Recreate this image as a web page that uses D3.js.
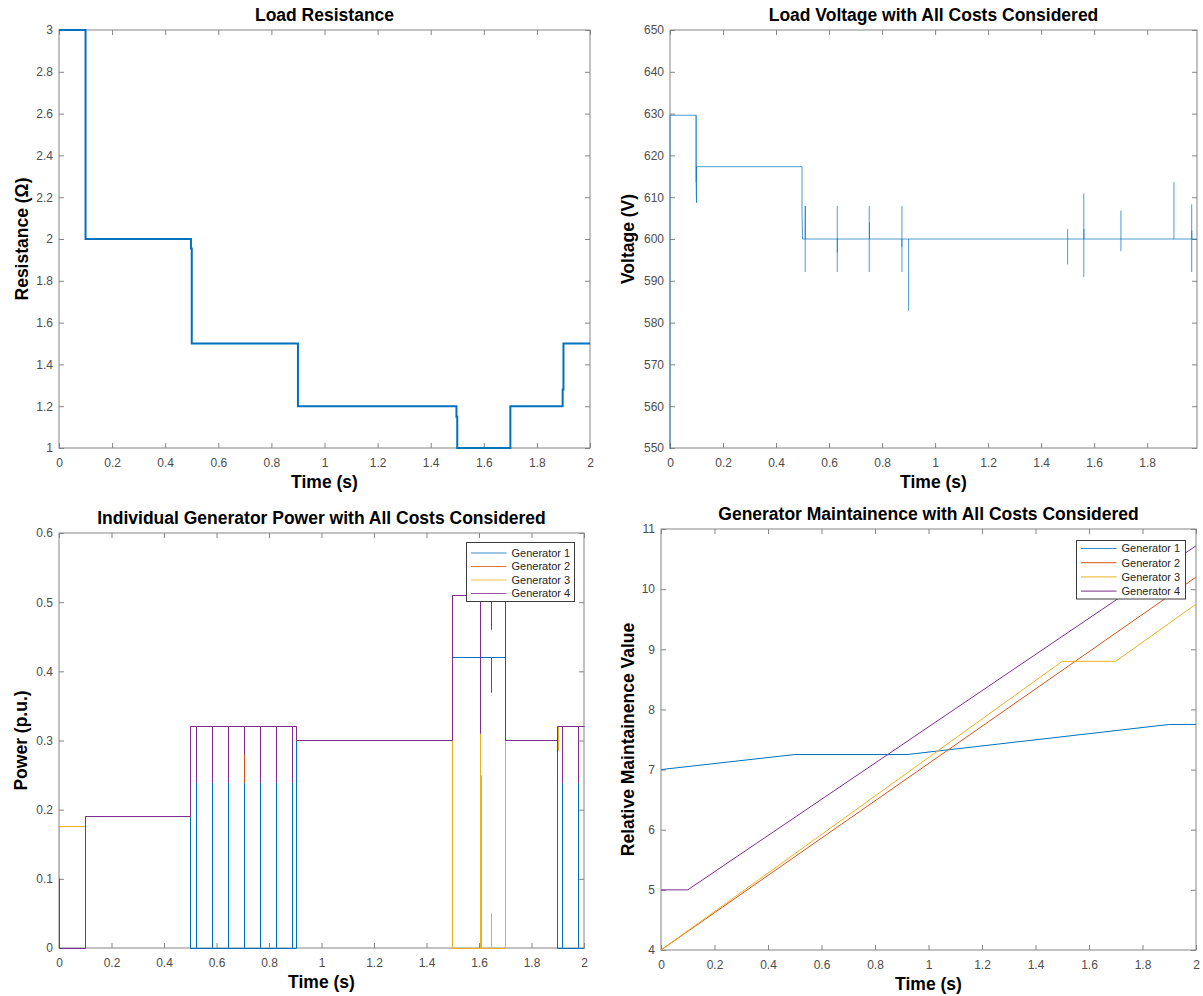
<!DOCTYPE html>
<html>
<head>
<meta charset="utf-8">
<script src="https://cdn.jsdelivr.net/npm/d3@7"></script>
<style>
body { margin: 0; background: #fff; }
svg { font-family: "Liberation Sans", Arial, Helvetica, sans-serif; }
.tick text { fill: #4d4d4d; font-size: 12px; }
.tick line { stroke: #858585; }
.domain { display: none; }
.title, .label { font-weight: bold; font-size: 17.5px; fill: #000; }
.legend text { font-size: 11px; fill: #262626; }
</style>
</head>
<body>
<svg id="fig" width="1203" height="996"></svg>
<script>
// tick values
var timeTicks = [0, 0.2, 0.4, 0.6, 0.8, 1, 1.2, 1.4, 1.6, 1.8, 2];
var voltTimeTicks = [0, 0.2, 0.4, 0.6, 0.8, 1, 1.2, 1.4, 1.6, 1.8];
var resTicks = [1, 1.2, 1.4, 1.6, 1.8, 2, 2.2, 2.4, 2.6, 2.8, 3];
var voltTicks = [550, 560, 570, 580, 590, 600, 610, 620, 630, 640, 650];
var powerTicks = [0, 0.1, 0.2, 0.3, 0.4, 0.5, 0.6];
var maintTicks = [4, 5, 6, 7, 8, 9, 10, 11];

var genNames = ["Generator 1", "Generator 2", "Generator 3", "Generator 4"];
var genColors = ["#0072BD", "#D95319", "#EDB120", "#7E2F8E"];

// load resistance (t, ohm)
var resistance = [[0,3],[0.1,3],[0.1,2],[0.497,2],[0.497,1.955],[0.5,1.955],[0.5,1.5],
	[0.9,1.5],[0.9,1.2],[1.497,1.2],[1.497,1.15],[1.5,1.15],[1.5,1],[1.7,1],[1.7,1.2],
	[1.897,1.2],[1.897,1.28],[1.9,1.28],[1.9,1.5],[2,1.5]];

// load voltage (t, V)
var voltage = [[0,0],[0,629.6],[0.0985,629.6],[0.0985,613.6],[0.1,608.7],[0.1,617.3],
	[0.498,617.3],[0.498,606.4],[0.5,600],[1.988,600]];
var spikeT  = [0.510, 0.631, 0.7516, 0.875, 0.900, 1.500, 1.561, 1.701, 1.901, 1.968];
var spikeHi = [607.9, 607.9, 607.9, 607.9, 600.0, 602.4, 610.9, 606.8, 613.6, 608.3];
var spikeLo = [592.1, 592.1, 592.1, 592.1, 582.8, 593.9, 590.9, 597.1, 600.0, 592.1];
var overlapT  = [0.5105, 0.6315, 0.7525, 0.8745, 1.5615, 1.9685, 0.0985];
var overlapHi = [607.9, 600.0, 603.9, 600.0, 602.4, 602.0, 629.6];
var overlapLo = [600.0, 596.8, 600.0, 598.1, 600.0, 600.0, 613.6];

// generator power (t, p.u.)
var gen1Power = [[0,0],[0,0.175],[0.1,0.175],[0.1,0.19],[0.5,0.19],[0.5,0.24],[0.5,0],
	[0.523,0],[0.523,0.24],[0.523,0],[0.584,0],[0.584,0.24],[0.584,0],
	[0.646,0],[0.646,0.24],[0.646,0],[0.706,0],[0.706,0.24],[0.706,0],
	[0.767,0],[0.767,0.24],[0.767,0],[0.828,0],[0.828,0.24],[0.828,0],
	[0.888,0],[0.888,0.24],[0.888,0],[0.903,0],[0.903,0.3],[1.5,0.3],[1.5,0.42],
	[1.649,0.42],[1.649,0.37],[1.649,0.42],[1.7,0.42],[1.7,0.3],[1.9,0.3],[1.9,0],
	[1.919,0],[1.919,0.24],[1.919,0],[1.98,0],[1.98,0.24],[1.98,0],[2,0]];
var gen2Power = [[0,0],[0,0.175],[0.1,0.175],[0.1,0.19],[0.5,0.19],[0.5,0.32],
	[0.523,0.32],[0.523,0.24],[0.523,0.32],[0.584,0.32],[0.584,0.24],[0.584,0.32],
	[0.646,0.32],[0.646,0.24],[0.646,0.32],[0.706,0.32],[0.706,0.24],[0.706,0.32],
	[0.767,0.32],[0.767,0.24],[0.767,0.32],[0.828,0.32],[0.828,0.24],[0.828,0.32],
	[0.888,0.32],[0.888,0.24],[0.888,0.32],[0.903,0.32],[0.903,0.3],[1.5,0.3],[1.5,0.51],
	[1.7,0.51],[1.7,0.3],[1.903,0.3],[1.903,0.285],[1.903,0.32],
	[1.919,0.32],[1.919,0.24],[1.919,0.32],[1.98,0.32],[1.98,0.24],[1.98,0.32],[2,0.32]];
var gen3Power = [[0,0],[0,0.175],[0.1,0.175],[0.1,0.19],[0.5,0.19],[0.5,0.32],
	[0.523,0.32],[0.523,0.24],[0.523,0.32],[0.584,0.32],[0.584,0.24],[0.584,0.32],
	[0.646,0.32],[0.646,0.24],[0.646,0.32],[0.706,0.32],[0.706,0.28],[0.706,0.32],
	[0.767,0.32],[0.767,0.24],[0.767,0.32],[0.828,0.32],[0.828,0.24],[0.828,0.32],
	[0.888,0.32],[0.888,0.24],[0.888,0.32],[0.903,0.32],[0.903,0.3],[1.5,0.3],[1.5,0],
	[1.606,0],[1.606,0.31],[1.606,0],[1.608,0],[1.608,0.25],[1.608,0],
	[1.649,0],[1.649,0.05],[1.649,0],[1.7,0],[1.7,0.3],[1.903,0.3],[1.903,0.285],[1.903,0.32],
	[1.919,0.32],[1.919,0.24],[1.919,0.32],[1.98,0.32],[1.98,0.24],[1.98,0.32],[2,0.32]];
var gen4Power = [[0,0.1],[0,0],[0.1,0],[0.1,0.19],[0.5,0.19],[0.5,0.32],
	[0.523,0.32],[0.523,0.24],[0.523,0.32],[0.584,0.32],[0.584,0.24],[0.584,0.32],
	[0.646,0.32],[0.646,0.24],[0.646,0.32],[0.706,0.32],[0.706,0.28],[0.706,0.32],
	[0.767,0.32],[0.767,0.24],[0.767,0.32],[0.828,0.32],[0.828,0.24],[0.828,0.32],
	[0.888,0.32],[0.888,0.24],[0.888,0.32],[0.903,0.32],[0.903,0.3],[1.5,0.3],[1.5,0.51],
	[1.606,0.51],[1.606,0.31],[1.606,0.51],[1.649,0.51],[1.649,0.46],[1.649,0.51],
	[1.7,0.51],[1.7,0.3],[1.9,0.3],[1.9,0.24],[1.9,0.32],
	[1.919,0.32],[1.919,0.24],[1.919,0.32],[1.98,0.32],[1.98,0.24],[1.98,0.32],[2,0.32]];

// generator maintenance (t, value)
var gen1Maint = [[0,7],[0.5,7.25],[0.92,7.25],[1.9,7.75],[2,7.75]];
var gen2Maint = [[0,4],[2,10.2]];
var gen3Maint = [[0,4],[1.5,8.8],[1.7,8.8],[2,9.75]];
var gen4Maint = [[0,5],[0.1,5],[2,10.72]];

var svg = d3.select("#fig");
var fmt = d3.format("~g");

function makePanel(p) {
	var g = svg.append("g");
	var x = d3.scaleLinear().domain(p.xdom).range([p.left, p.right]),
		y = d3.scaleLinear().domain(p.ydom).range([p.bottom, p.top]);
	var id = "clip" + p.id;

	g.append("clipPath").attr("id", id).append("rect")
		.attr("x", p.left - 1).attr("y", p.top - 1)
		.attr("width", p.right - p.left + 2).attr("height", p.bottom - p.top + 2);

	g.append("rect")
		.attr("x", p.left).attr("y", p.top)
		.attr("width", p.right - p.left).attr("height", p.bottom - p.top)
		.attr("fill", "#fff").attr("stroke", "#858585").attr("stroke-width", 1);

	g.append("g").attr("transform", "translate(0," + p.bottom + ")")
		.call(d3.axisBottom(x).tickValues(p.xticks).tickFormat(fmt).tickSizeInner(-5).tickSizeOuter(0).tickPadding(10));
	g.append("g").attr("transform", "translate(0," + p.top + ")")
		.call(d3.axisTop(x).tickValues(p.xticks).tickFormat("").tickSizeInner(-5).tickSizeOuter(0));
	g.append("g").attr("transform", "translate(" + p.left + ",0)")
		.call(d3.axisLeft(y).tickValues(p.yticks).tickFormat(fmt).tickSizeInner(-5).tickSizeOuter(0).tickPadding(6));
	g.append("g").attr("transform", "translate(" + p.right + ",0)")
		.call(d3.axisRight(y).tickValues(p.yticks).tickFormat("").tickSizeInner(-5).tickSizeOuter(0));

	g.append("text").attr("class", "title")
		.attr("x", (p.left + p.right) / 2).attr("y", p.top - 9.5)
		.attr("text-anchor", "middle").text(p.title);
	g.append("text").attr("class", "label")
		.attr("x", (p.left + p.right) / 2).attr("y", p.bottom + 40)
		.attr("text-anchor", "middle").text("Time (s)");
	g.append("text").attr("class", "label")
		.attr("transform", "translate(" + (p.left - p.ylabelOff) + "," + ((p.top + p.bottom) / 2) + ") rotate(-90)")
		.attr("text-anchor", "middle").text(p.ylabel);

	var plot = g.append("g").attr("clip-path", "url(#" + id + ")");
	var line = d3.line().x(function(d) { return x(d[0]); }).y(function(d) { return y(d[1]); });
	// pixel-snapped variant for the overlapping step series
	var snapLine = d3.line()
		.x(function(d) { return Math.round(x(d[0]) - 0.5) + 0.5; })
		.y(function(d) { return Math.round(y(d[1]) - 0.5) + 0.5; });
	return {g: g, plot: plot, x: x, y: y, line: line, snapLine: snapLine};
}

function addLegend(panel, box, rowH) {
	var lg = panel.g.append("g").attr("class", "legend");
	lg.append("rect")
		.attr("x", box.x).attr("y", box.y).attr("width", box.w).attr("height", box.h)
		.attr("fill", "#fff").attr("stroke", "#3c3c3c").attr("stroke-width", 1);
	genNames.forEach(function(name, i) {
		var cy = box.y + box.pad + rowH * i;
		lg.append("line")
			.attr("x1", box.x + 4.5).attr("x2", box.x + 40)
			.attr("y1", cy).attr("y2", cy)
			.attr("stroke", genColors[i]).attr("stroke-width", 1.2).attr("opacity", 0.8);
		lg.append("text").attr("x", box.x + 45).attr("y", cy).attr("dy", "0.35em").text(name);
	});
}

// Load Resistance
var p1 = makePanel({id: 1, left: 59, right: 590, top: 30, bottom: 448,
	xdom: [0, 2], ydom: [1, 3], xticks: timeTicks, yticks: resTicks,
	title: "Load Resistance", ylabel: "Resistance (\u03A9)", ylabelOff: 31.5});
p1.plot.append("path").datum(resistance).attr("d", p1.line)
	.attr("fill", "none").attr("stroke", "#0072BD").attr("stroke-width", 2);

// Load Voltage
var p2 = makePanel({id: 2, left: 670, right: 1197, top: 30, bottom: 448,
	xdom: [0, 1.988], ydom: [550, 650], xticks: voltTimeTicks, yticks: voltTicks,
	title: "Load Voltage with All Costs Considered", ylabel: "Voltage (V)", ylabelOff: 36});
p2.plot.append("path").datum(voltage).attr("d", p2.line)
	.attr("fill", "none").attr("stroke", "#0072BD").attr("stroke-width", 1).attr("stroke-opacity", 0.7);
spikeT.forEach(function(t, i) {
	p2.plot.append("line")
		.attr("x1", p2.x(t)).attr("x2", p2.x(t))
		.attr("y1", p2.y(spikeHi[i])).attr("y2", p2.y(spikeLo[i]))
		.attr("stroke", "#0072BD").attr("stroke-width", 1).attr("stroke-opacity", 0.7);
});
overlapT.forEach(function(t, i) {
	p2.plot.append("line")
		.attr("x1", p2.x(t)).attr("x2", p2.x(t))
		.attr("y1", p2.y(overlapHi[i])).attr("y2", p2.y(overlapLo[i]))
		.attr("stroke", "#0072BD").attr("stroke-width", 1).attr("stroke-opacity", 0.7);
});

// Individual Generator Power
var p3 = makePanel({id: 3, left: 59, right: 584, top: 533, bottom: 948,
	xdom: [0, 2], ydom: [0, 0.6], xticks: timeTicks, yticks: powerTicks,
	title: "Individual Generator Power with All Costs Considered", ylabel: "Power (p.u.)", ylabelOff: 32});
[gen1Power, gen2Power, gen3Power, gen4Power].forEach(function(s, i) {
	p3.plot.append("path").datum(s).attr("d", p3.snapLine)
		.attr("fill", "none").attr("stroke", genColors[i]).attr("stroke-width", 1);
});
addLegend(p3, {x: 466.5, y: 542.5, w: 108, h: 59, pad: 10.5}, 13.5);

// Generator Maintainence
var p4 = makePanel({id: 4, left: 661, right: 1196, top: 529, bottom: 950,
	xdom: [0, 2], ydom: [4, 11], xticks: timeTicks, yticks: maintTicks,
	title: "Generator Maintainence with All Costs Considered", ylabel: "Relative Maintainence Value", ylabelOff: 27});
[gen1Maint, gen2Maint, gen3Maint, gen4Maint].forEach(function(s, i) {
	p4.plot.append("path").datum(s).attr("d", p4.line)
		.attr("fill", "none").attr("stroke", genColors[i]).attr("stroke-width", 1);
});
addLegend(p4, {x: 1076.5, y: 540.5, w: 109, h: 58.5, pad: 8}, 14.2);
</script>
</body>
</html>
